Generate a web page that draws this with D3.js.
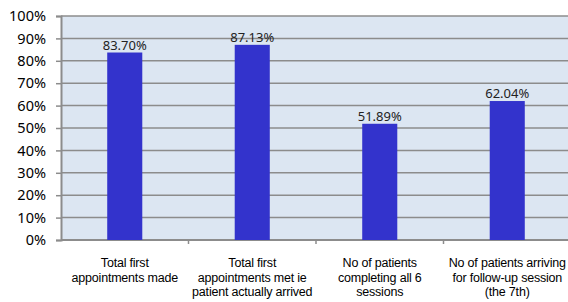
<!DOCTYPE html>
<html>
<head>
<meta charset="utf-8">
<script src="https://cdn.jsdelivr.net/npm/d3@7"></script>
<style>
  body { margin: 0; background: #fff; }
  svg { display: block; }
</style>
</head>
<body>
<div id="chart"></div>
<script>
// categories, one entry per bar (lines of the wrapped label)
const categories = [
    ["Total first", "appointments made"],
    ["Total first", "appointments met ie", "patient actually arrived"],
    ["No of patients", "completing all 6", "sessions"],
    ["No of patients arriving", "for follow-up session", "(the 7th)"]
];
const values = [83.70, 87.13, 51.89, 62.04];
const yTicks = [0, 10, 20, 30, 40, 50, 60, 70, 80, 90, 100];

const width = 568, height = 302;
const margin = {top: 16, right: -3, bottom: 62, left: 61};
const innerW = width - margin.left - margin.right;
const innerH = height - margin.top - margin.bottom;

const svg = d3.select("#chart").append("svg")
    .attr("width", width)
    .attr("height", height);

const chart = svg.append("g")
    .attr("transform", `translate(${margin.left},${margin.top})`);

const x = d3.scaleBand()
    .domain(d3.range(values.length))
    .range([0, innerW]);

const y = d3.scaleLinear()
    .domain([0, 100])
    .range([innerH, 0]);

// plot background
chart.append("rect")
    .attr("x", 0)
    .attr("y", 0)
    .attr("width", innerW)
    .attr("height", innerH)
    .attr("fill", "#dce6f2");

// gridlines
chart.selectAll(".grid")
    .data(yTicks)
    .join("line")
    .attr("class", "grid")
    .attr("x1", 0)
    .attr("x2", innerW)
    .attr("y1", d => y(d))
    .attr("y2", d => y(d))
    .attr("stroke", "#8c8c8c")
    .attr("stroke-width", 1.5);

// left axis
const yAxis = chart.append("g")
    .call(d3.axisLeft(y).tickValues(yTicks).tickSize(5).tickFormat(d => d + "%"));
yAxis.select(".domain").attr("stroke", "#8c8c8c").attr("stroke-width", 2);
yAxis.selectAll(".tick line").attr("stroke", "#8c8c8c").attr("stroke-width", 1.5);
yAxis.selectAll(".tick text")
    .attr("x", -15)
    .attr("fill", "#000")
    .style("font-family", "'Noto Sans', sans-serif")
    .style("font-size", "14.5px");

// bottom axis with ticks between categories
chart.append("line")
    .attr("x1", 0).attr("x2", innerW)
    .attr("y1", innerH).attr("y2", innerH)
    .attr("stroke", "#8c8c8c")
    .attr("stroke-width", 2);

chart.selectAll(".xtick")
    .data(d3.range(1, values.length))
    .join("line")
    .attr("class", "xtick")
    .attr("x1", d => x(d))
    .attr("x2", d => x(d))
    .attr("y1", innerH)
    .attr("y2", innerH + 4)
    .attr("stroke", "#8c8c8c")
    .attr("stroke-width", 1.5);

// bars
const barW = x.bandwidth() * 0.275;
chart.selectAll(".bar")
    .data(values)
    .join("rect")
    .attr("class", "bar")
    .attr("x", (d, i) => x(i) + x.bandwidth() / 2 - barW / 2)
    .attr("y", d => y(d))
    .attr("width", barW)
    .attr("height", d => innerH - y(d))
    .attr("fill", "#3333cc");

// value labels
chart.selectAll(".value")
    .data(values)
    .join("text")
    .attr("class", "value")
    .attr("x", (d, i) => x(i) + x.bandwidth() / 2)
    .attr("y", d => y(d) - 3)
    .attr("text-anchor", "middle")
    .style("font-family", "'Noto Sans', sans-serif")
    .style("font-size", "13px")
    .style("fill", "#222")
    .text(d => d.toFixed(2) + "%");

// category labels
const cat = chart.selectAll(".cat")
    .data(categories)
    .join("text")
    .attr("class", "cat")
    .attr("x", (d, i) => x(i) + x.bandwidth() / 2)
    .attr("y", innerH + 27)
    .attr("text-anchor", "middle")
    .style("font-family", "'Liberation Sans', Arial, sans-serif")
    .style("font-size", "12.5px")
    .style("letter-spacing", "-0.2px")
    .style("fill", "#000");

cat.selectAll("tspan")
    .data(d => d)
    .join("tspan")
    .attr("x", function() { return d3.select(this.parentNode).attr("x"); })
    .attr("dy", (d, i) => i === 0 ? 0 : 14.5)
    .text(d => d);
</script>
</body>
</html>
